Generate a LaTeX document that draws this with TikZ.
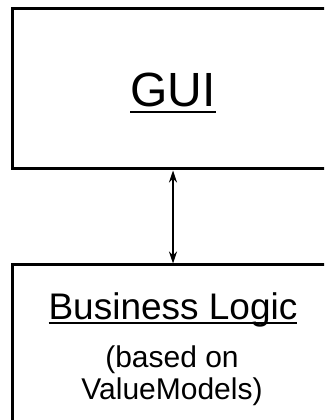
\documentclass[tikz,border=0pt]{standalone}
\usepackage{fontspec}
\setmainfont{Liberation Sans}
\usepackage{tikz}
\usetikzlibrary{arrows.meta, positioning}

% underline with a rule that scales with the font
\newsavebox{\ulbox}
\newcommand{\ultext}[1]{\sbox{\ulbox}{#1}\rlap{\rule[-0.13em]{\wd\ulbox}{0.05em}}\usebox{\ulbox}}

\begin{document}
\begin{tikzpicture}[x=1pt, y=1pt,
		layer/.style={draw, line width=3pt, minimum width=322pt, inner sep=0pt},
		bigtitle/.style={font=\fontsize{48}{58}\selectfont, anchor=base, inner sep=0pt},
		title/.style={font=\fontsize{37}{44}\selectfont, anchor=base, inner sep=0pt},
		note/.style={font=\fontsize{30}{36}\selectfont, anchor=base, inner sep=0pt},
		link/.style={{Stealth[length=12pt, width=8pt, inset=4pt]}-{Stealth[length=12pt, width=8pt, inset=4pt]}, line width=1.2pt}]
	\useasboundingbox (0,0) rectangle (324,420);
	\clip (0,0) rectangle (324,420);
	% the two layers (both run off the right edge)
	\node[layer, minimum height=160pt] (gui) at (173,331) {};
	\node[layer, minimum height=200pt] (logic) at (173,55) {};
	% texts
	\node[bigtitle] (guititle) at (173,313) {\ultext{GUI}};
	\node[title] (logictitle) at (173,100.5) {\ultext{Business Logic}};
	\node[note] (logicnote) at (172,52) {(based on};
	\node[note] (logicnote2) at (172,20) {ValueModels)};
	% GUI talks to the logic both ways
	\draw[link] (gui.south) -- (logic.north);
\end{tikzpicture}
\end{document}
